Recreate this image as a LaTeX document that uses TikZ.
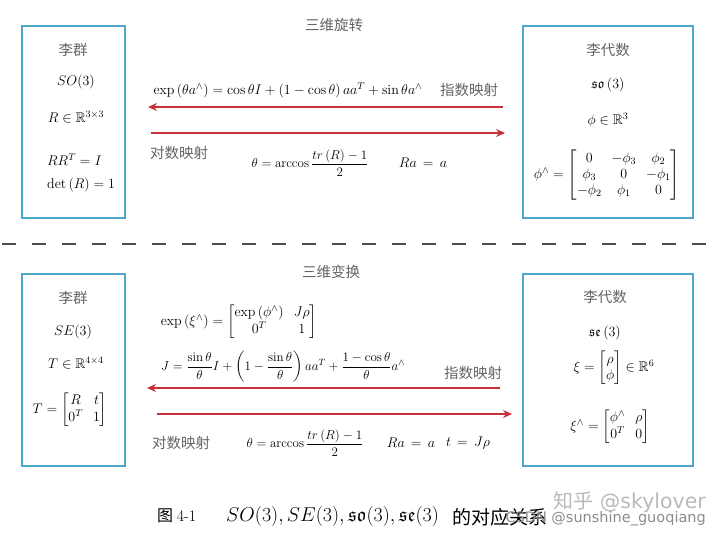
\RequirePackage{fix-cm}
\documentclass[tikz,border=0pt]{standalone}
\usepackage{amsmath,amssymb}
\usepackage{fontspec}
\newfontfamily\cjk{Noto Sans CJK SC}
\newfontfamily\marksans{DejaVu Sans}
\usetikzlibrary{arrows.meta}
\definecolor{boxblue}{RGB}{78,168,204}
\definecolor{arrowred}{RGB}{200,48,58}
\definecolor{zhgray}{RGB}{100,100,100}
\definecolor{markgray}{RGB}{185,185,185}

\begin{document}
\begin{tikzpicture}[x=1pt,y=-1pt,
    groupbox/.style={draw=boxblue,line width=1.4pt,minimum width=103pt,minimum height=192pt,inner sep=0pt},
    algbox/.style={groupbox,minimum width=170pt},
    zh/.style={font=\cjk\fontsize{14.5}{16}\selectfont,text=zhgray,inner sep=0pt},
    fm/.style={font=\fontsize{14}{16}\selectfont,inner sep=0pt},
    fmsmall/.style={font=\fontsize{13}{15}\selectfont,inner sep=0pt},
    maparrow/.style={draw=arrowred,line width=1.3pt,-{Stealth[length=9pt,width=8pt]}}]
        \useasboundingbox (0,0) rectangle (720,540);

        % Rotation
        \node[zh] (rotTitle) at (334,25) {三维旋转};
        \node[groupbox] (soGroup) at (73.5,122) {};
        \node[zh] (soGroupName) at (73,50) {李群};
        \node[fm] (soName) at (76,82) {$SO(3)$};
        \node[fm] (soSpace) at (76,117) {$R\in\mathbb{R}^{3\times 3}$};
        \node[fm,anchor=west] (soOrth) at (47,160) {$RR^T=I$};
        \node[fm,anchor=west] (soDet) at (47,185) {$\det\left(R\right)=1$};
        \node[algbox] (soAlg) at (608,122) {};
        \node[zh] (soAlgName) at (608,50) {李代数};
        \node[fm] (soAlgSym) at (608,85) {$\mathfrak{so}\left(3\right)$};
        \node[fm] (soAlgSpace) at (608,120) {$\phi\in\mathbb{R}^{3}$};
        \node[fm] (soHat) at (607,175) {$\phi^\wedge=\begin{bmatrix}0&-\phi_3&\phi_2\\ \phi_3&0&-\phi_1\\ -\phi_2&\phi_1&0\end{bmatrix}$};
        \coordinate (soExpFrom) at (503,107);
        \coordinate (soExpTo) at (148,107);
        \coordinate (soLogFrom) at (151,133);
        \coordinate (soLogTo) at (505,133);
        \draw[maparrow] (soExpFrom) -- (soExpTo);
        \draw[maparrow] (soLogFrom) -- (soLogTo);
        \node[fm] (soExp) at (288,90) {$\exp\left(\theta a^\wedge\right)=\cos\theta I+\left(1-\cos\theta\right)aa^T+\sin\theta a^\wedge$};
        \node[zh] (soExpName) at (469,90) {指数映射};
        \node[zh] (soLogName) at (179,153) {对数映射};
        \node[fmsmall] (soAngle) at (310,163) {$\theta=\arccos\dfrac{tr\left(R\right)-1}{2}$};
        \node[fm] (soAxis) at (423,163) {$Ra\mkern3mu=\mkern3mu a$};

        % separator
        \coordinate (sepL) at (2,244);
        \coordinate (sepR) at (706,244);
        \draw[black!70,line width=1.8pt,dash pattern=on 14pt off 16pt] (sepL) -- (sepR);

        % Transformation
        \node[zh] (seTitle) at (331,272) {三维变换};
        \node[groupbox] (seGroup) at (73.5,370) {};
        \node[zh] (seGroupName) at (73,298) {李群};
        \node[fm] (seName) at (73,332) {$SE(3)$};
        \node[fm] (seSpace) at (76,363) {$T\in\mathbb{R}^{4\times 4}$};
        \node[fm] (seMat) at (70,410) {$T=\begin{bmatrix}R&t\\ 0^T&1\end{bmatrix}$};
        \node[algbox] (seAlg) at (608,370) {};
        \node[zh] (seAlgName) at (605,297) {李代数};
        \node[fm] (seAlgSym) at (605,333) {$\mathfrak{se}\left(3\right)$};
        \node[fm] (seAlgSpace) at (614,368) {$\xi=\begin{bmatrix}\rho\\ \phi\end{bmatrix}\in\mathbb{R}^{6}$};
        \node[fm] (seHat) at (610,427) {$\xi^\wedge=\begin{bmatrix}\phi^\wedge&\rho\\ 0^T&0\end{bmatrix}$};
        \coordinate (seExpFrom) at (500,388);
        \coordinate (seExpTo) at (147,388);
        \coordinate (seLogFrom) at (157,414);
        \coordinate (seLogTo) at (512,414);
        \draw[maparrow] (seExpFrom) -- (seExpTo);
        \draw[maparrow] (seLogFrom) -- (seLogTo);
        \node[fm] (seExp) at (239,322) {$\exp\left(\xi^\wedge\right)=\begin{bmatrix}\exp\left(\phi^\wedge\right)&J\rho\\ 0^T&1\end{bmatrix}$};
        \node[fmsmall] (seJac) at (283,367) {$J=\dfrac{\sin\theta}{\theta}I+\left(1-\dfrac{\sin\theta}{\theta}\right)aa^T+\dfrac{1-\cos\theta}{\theta}a^\wedge$};
        \node[zh] (seExpName) at (473,373) {指数映射};
        \node[zh] (seLogName) at (181,443) {对数映射};
        \node[fmsmall] (seAngle) at (305,443) {$\theta=\arccos\dfrac{tr\left(R\right)-1}{2}$};
        \node[fm] (seAxis) at (411,443) {$Ra\mkern3mu=\mkern3mu a$};
        \node[fm] (seTrans) at (468,443) {$t\mkern3mu=\mkern3mu J\rho$};

        % caption
        \node[anchor=west,inner sep=0pt,font=\cjk\fontsize{16}{18}\selectfont] (capNum) at (157,516) {图 \rmfamily 4-1};
        \node[anchor=west,inner sep=0pt,font=\fontsize{20}{22}\selectfont] (capSym) at (226,516) {$SO(3),SE(3),\mathfrak{so}(3),\mathfrak{se}(3)$};
        \node[anchor=west,inner sep=0pt,font=\cjk\fontsize{19}{21}\selectfont] (capText) at (452,517) {的对应关系};
        \node[anchor=east,inner sep=0pt,text=markgray,font=\fontsize{20}{22}\selectfont] (markA) at (706,502)
            {{\cjk 知乎} \marksans\fontsize{20.5}{22}\selectfont @skylover};
        \node[anchor=east,inner sep=0pt,text=black!45,font=\marksans\fontsize{14.5}{16}\selectfont] (markB) at (706,519)
            {CSDN @sunshine\_guoqiang};
    \end{tikzpicture}
\end{document}
